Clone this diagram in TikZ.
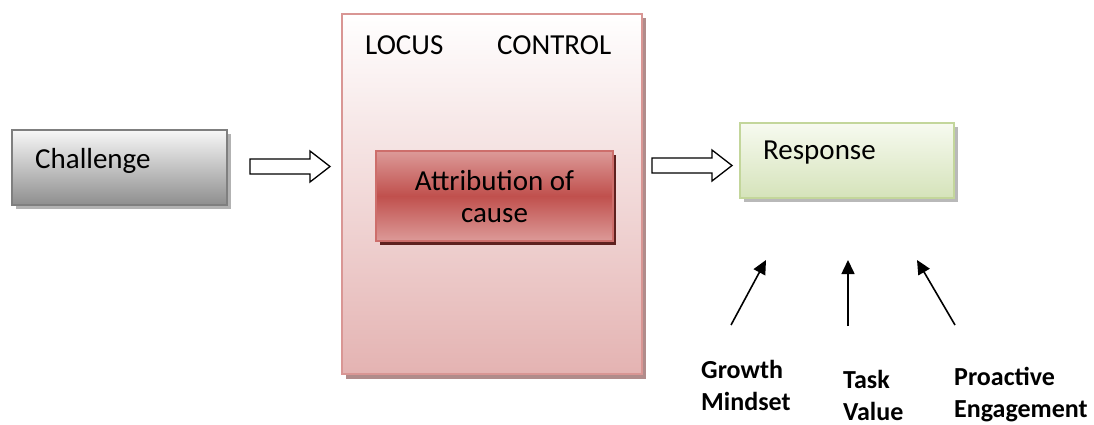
\documentclass[tikz,border=0pt]{standalone}
\usepackage{fontspec}
\setmainfont{Carlito}
\usetikzlibrary{arrows.meta,patterns}
\definecolor{chalB}{HTML}{7F7F7F}
\definecolor{chalTop}{HTML}{F7F7F7}
\definecolor{chalBot}{HTML}{8E8E8E}
\definecolor{locB}{HTML}{D99694}
\definecolor{locBot}{HTML}{E4B3B2}
\definecolor{attB}{HTML}{CD6E6B}
\definecolor{attMid}{HTML}{C0504D}
\definecolor{attEnd}{HTML}{DC9A98}
\definecolor{attSh}{HTML}{5E211F}
\definecolor{resB}{HTML}{C3D69B}
\definecolor{resTop}{HTML}{F7FAF0}
\definecolor{resBot}{HTML}{D5E3BA}
\tikzset{
  txt/.style={font=\fontsize{29}{32}\selectfont, inner sep=0pt},
  lbl/.style={font=\bfseries\fontsize{26}{32}\selectfont, inner sep=0pt, align=left, anchor=west},
  blockarrow/.style={draw=black, line width=1.3pt, fill=white, line join=miter},
  thinarrow/.style={line width=1.6pt, -{Triangle[length=14pt,width=13pt]}}
}
\newcommand{\blockarr}[2]{% x-start, y-center
  \draw[blockarrow] (#1,#2-7.5) -- (#1+60,#2-7.5) -- (#1+60,#2-15.5) -- (#1+80,#2)
    -- (#1+60,#2+15.5) -- (#1+60,#2+7.5) -- (#1,#2+7.5) -- cycle;}
\begin{document}
\begin{tikzpicture}[x=1pt,y=-1pt]
\useasboundingbox (0,0) rectangle (1094,425);
% Challenge
\fill[gray!60] (16,134) rectangle (231,209);
\node[draw=chalB, line width=2pt, top color=chalTop, bottom color=chalBot,
  minimum width=215pt, minimum height=75pt, inner sep=0pt] (chal) at (119.5,167.5) {};
\node[txt, anchor=west] (chaltxt) at (35,161) {Challenge};
% Locus box
\fill[gray!45!locB] (346,18) rectangle (646,379);
\node[draw=locB, line width=2pt, top color=white, bottom color=locBot,
  minimum width=300pt, minimum height=360pt, inner sep=0pt] (locus) at (492,194) {};
\node[txt, anchor=west] (locust) at (365,45) {LOCUS};
\node[txt, anchor=west] (contr) at (497,45) {CONTROL};
% Attribution
\fill[attSh] (380,155) rectangle (616,245);
\node[draw=attB, line width=2pt, minimum width=237pt, minimum height=90pt, inner sep=0pt,
  top color=attEnd, bottom color=attEnd, middle color=attMid] (attr) at (494.5,196) {};
\node[txt, align=center] (attrtxt) at (494.5,197) {Attribution of\\cause};
% Response
\fill[gray!55] (744,127) rectangle (958,202);
\node[draw=resB, line width=2pt, top color=resTop, bottom color=resBot,
  minimum width=214pt, minimum height=75pt, inner sep=0pt] (resp) at (847,160.5) {};
\node[txt, anchor=west] (resptxt) at (763,153) {Response};
% block arrows
\blockarr{250}{166.5}
\blockarr{652}{165.5}
% thin arrows
\coordinate (g0) at (731,325); \coordinate (g1) at (766,260);
\coordinate (t0) at (848,326); \coordinate (t1) at (848,260);
\coordinate (p0) at (955,325); \coordinate (p1) at (917,260);
\draw[thinarrow] (g0) -- (g1);
\draw[thinarrow] (t0) -- (t1);
\draw[thinarrow] (p0) -- (p1);
% labels
\node[lbl] (grow) at (701,385) {Growth\\Mindset};
\node[lbl] (task) at (843,395) {Task\\Value};
\node[lbl] (proa) at (954,395) {Proactive\\Engagement};
\end{tikzpicture}
\end{document}
